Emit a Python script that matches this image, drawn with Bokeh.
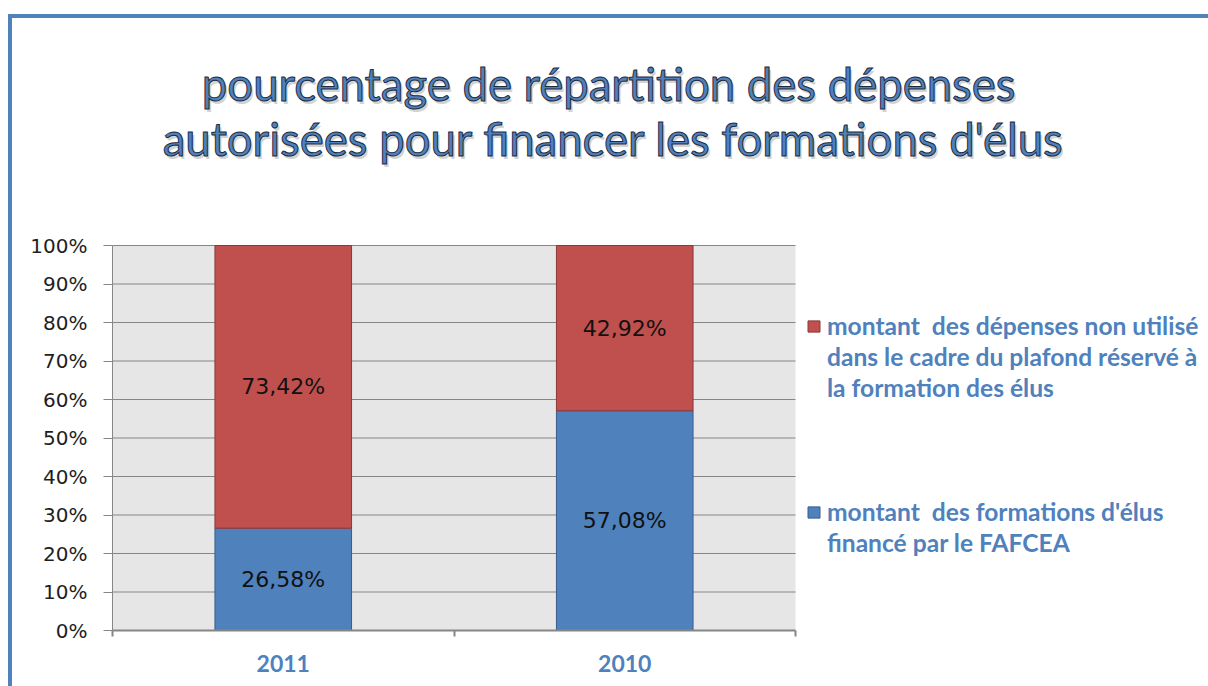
from bokeh.plotting import figure
from bokeh.models import (Range1d, FixedTicker, Legend, LegendItem, Label,
                          BoxAnnotation, ColumnDataSource, InlineStyleSheet)
from bokeh.core.properties import value
from bokeh.embed import file_html
from bokeh.resources import INLINE

# ---- data ----
categories = ["2011", "2010"]
financed = [26.58, 57.08]
unused = [73.42, 42.92]
financed_labels = ["26,58%", "57,08%"]
unused_labels = ["73,42%", "42,92%"]
series_unused_lines = ["montant  des dépenses non utilisé",
                       "dans le cadre du plafond réservé à",
                       "la formation des élus"]
series_financed_lines = ["montant  des formations d'élus",
                         "financé par le FAFCEA"]
y_ticks = list(range(0, 101, 10))
y_tick_labels = [f"{t}%" for t in y_ticks]
title_lines = [
    "pourcentage de répartition  des dépenses",
    "autorisées  pour financer les formations d'élus",
]

# ---- layout constants (pixels) ----
W, H = 1200, 678
PLOT_LEFT, PLOT_RIGHT, PLOT_TOP, PLOT_BOTTOM = 112, 795, 245, 630

BLUE = "#4F81BD"
RED = "#C0504D"
GRID = "#868686"
FONT = "Lato"
NUMFONT = "DejaVu Sans"

n = len(categories)
xs = [i + 0.5 for i in range(n)]
src = ColumnDataSource(dict(
    x=xs,
    fin=financed,
    top=[a + b for a, b in zip(financed, unused)],
    fin_mid=[a / 2 for a in financed],
    un_mid=[a + b / 2 for a, b in zip(financed, unused)],
    fin_lab=financed_labels,
    un_lab=unused_labels,
))
grid_src = ColumnDataSource(dict(y=y_ticks, x0=[0] * len(y_ticks), x1=[n] * len(y_ticks)))

border_css = InlineStyleSheet(css="""
:host::before {
  content: "";
  position: absolute;
  left: 8px; top: 14px; right: -20px; bottom: -20px;
  border-left: 4px solid #4F81BD;
  border-top: 4px solid #4F81BD;
  z-index: 5;
  pointer-events: none;
}
""")

# the frame spans the plot area plus the title and legend space
x_end = n * (W - PLOT_LEFT) / (PLOT_RIGHT - PLOT_LEFT)
y_end = 100 * PLOT_BOTTOM / (PLOT_BOTTOM - PLOT_TOP)
p = figure(width=W, height=H, output_backend="svg", toolbar_location=None,
           x_range=Range1d(0, x_end), y_range=Range1d(0, y_end),
           min_border_left=PLOT_LEFT, min_border_right=0, min_border_top=0,
           min_border_bottom=H - PLOT_BOTTOM, stylesheets=[border_css])
p.background_fill_color = "white"
p.border_fill_color = "white"
p.outline_line_color = None
p.xgrid.visible = False
p.ygrid.visible = False

# plot area background
p.add_layout(BoxAnnotation(left=0, right=n, bottom=0, top=100, fill_color="#E6E6E6",
                           fill_alpha=1, line_color=None, level="underlay"))
# horizontal gridlines
p.segment(x0="x0", x1="x1", y0="y", y1="y", source=grid_src,
          line_color=GRID, line_width=1)

r_fin = p.vbar(x="x", bottom=0, top="fin", width=0.4, source=src,
               fill_color=BLUE, line_color="#385D8A", line_width=1)
r_un = p.vbar(x="x", bottom="fin", top="top", width=0.4, source=src,
              fill_color=RED, line_color="#8C3836", line_width=1)

p.text(x="x", y="fin_mid", text="fin_lab", source=src, text_align="center",
       text_baseline="middle", text_font=value(NUMFONT), text_font_size="22px",
       text_color="#111111")
p.text(x="x", y="un_mid", text="un_lab", source=src, text_align="center",
       text_baseline="middle", text_font=value(NUMFONT), text_font_size="22px",
       text_color="#111111")

# y axis
p.yaxis.bounds = (0, 100)
p.yaxis.ticker = FixedTicker(ticks=y_ticks, minor_ticks=[])
p.yaxis.major_label_overrides = {t: l for t, l in zip(y_ticks, y_tick_labels)}
p.yaxis.major_label_text_font = NUMFONT
p.yaxis.major_label_text_font_size = "20px"
p.yaxis.major_label_text_color = "#1e1e1e"
p.yaxis.axis_line_color = GRID
p.yaxis.major_tick_line_color = GRID
p.yaxis.major_tick_in = 0
p.yaxis.major_tick_out = 9
p.yaxis.major_label_standoff = 16

# x axis
p.xaxis.bounds = (0, n)
p.xaxis.ticker = FixedTicker(ticks=xs, minor_ticks=list(range(n + 1)))
p.xaxis.major_label_overrides = {x: c for x, c in zip(xs, categories)}
p.xaxis.major_tick_line_color = None
p.xaxis.major_tick_out = 0
p.xaxis.major_tick_in = 0
p.xaxis.minor_tick_line_color = GRID
p.xaxis.minor_tick_line_width = 2
p.xaxis.minor_tick_out = 6
p.xaxis.minor_tick_in = 0
p.xaxis.axis_line_color = GRID
p.xaxis.axis_line_width = 2
p.xaxis.major_label_standoff = 18
p.xaxis.major_label_text_font = FONT
p.xaxis.major_label_text_font_style = "bold"
p.xaxis.major_label_text_font_size = "23px"
p.xaxis.major_label_text_color = BLUE

# legend: one entry per text line, glyph on the first line of each series
items = [LegendItem(label=series_unused_lines[0], renderers=[r_un])]
items += [LegendItem(label=t, renderers=[]) for t in series_unused_lines[1:]]
items += [LegendItem(label=" ", renderers=[]) for _ in range(3)]
items += [LegendItem(label=series_financed_lines[0], renderers=[r_fin])]
items += [LegendItem(label=t, renderers=[]) for t in series_financed_lines[1:]]
legend = Legend(items=items, location=(806 - PLOT_LEFT, 72), margin=0, padding=0,
                spacing=0, background_fill_alpha=0, border_line_color=None,
                glyph_width=15, glyph_height=14, label_standoff=6, label_height=31,
                label_text_font=FONT, label_text_font_style="bold",
                label_text_font_size="24.6px", label_text_color=BLUE,
                inactive_fill_alpha=0)
p.add_layout(legend)

# title (soft shadow underneath, then outlined blue text)
for t, cx, base in [(title_lines[0], 614, 83), (title_lines[1], 619, 138)]:
    p.add_layout(Label(x=cx - PLOT_LEFT + 2, y=PLOT_BOTTOM - base - 3, x_units="screen",
                       y_units="screen", text=t, text_align="center",
                       text_baseline="alphabetic", text_font=FONT,
                       text_font_size="45.5px", text_color="#808080", text_alpha=0.35))
    p.add_layout(Label(x=cx - PLOT_LEFT, y=PLOT_BOTTOM - base, x_units="screen",
                       y_units="screen", text=t, text_align="center",
                       text_baseline="alphabetic", text_font=FONT,
                       text_font_size="45.5px", text_color=BLUE,
                       text_outline_color="#1d2a3c"))

open("out.html", "w").write(file_html(p, INLINE))
